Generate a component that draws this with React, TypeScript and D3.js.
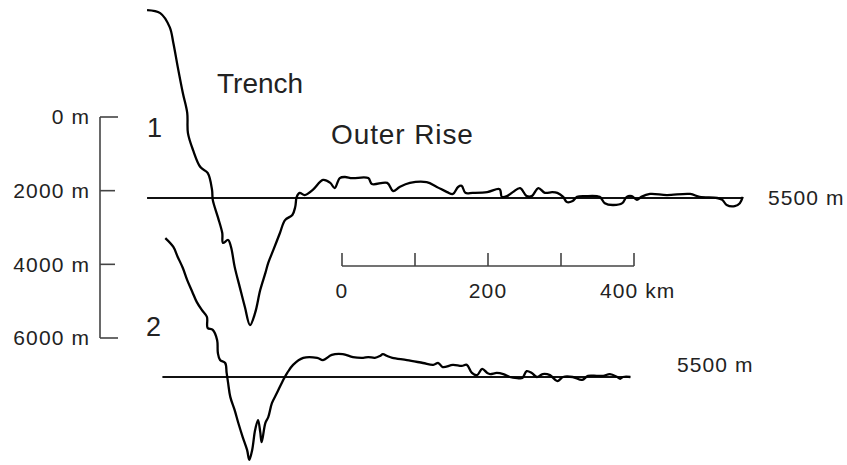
import React from "react";
import * as d3 from "d3";

// Profile 1: distance from trench axis (km), depth (m)
const p1Km = [-141,-123,-110,-105,-99,-92,-86,-85,-78,-68,-58,-52,-51,-44,-38,-37,-30,-26,-21,-14,-7,0,7,14,21,25,32,41,48,58,62,64,68,75,86,100,110,116,123,130,140,162,167,188,196,205,219,242,256,270,278,285,290,295,305,325,342,345,352,360,370,379,386,395,404,414,421,429,434,442,448,459,479,486,497,510,516,523,530,536,548,571,603,616,640,647,653,664,671,675];
const p1Depth = [400,480,860,1290,1940,2650,3190,3740,4200,4660,4820,5280,5550,6020,6450,6720,6640,6830,7370,7920,8460,8950,8620,8000,7540,7260,6910,6450,6100,5960,5740,5470,5360,5420,5280,5010,5090,5230,4960,4930,4960,4960,5120,5090,5310,5200,5090,5070,5200,5340,5390,5200,5170,5360,5360,5340,5260,5470,5450,5340,5230,5450,5450,5230,5360,5340,5360,5470,5610,5580,5470,5450,5470,5640,5690,5640,5470,5450,5550,5470,5390,5420,5390,5470,5500,5550,5690,5720,5640,5470];

// Profile 2
const p2Km = [-116,-105,-99,-92,-86,-79,-73,-66,-59,-58,-51,-45,-44,-41,-34,-32,-30,-27,-21,-16,-10,-4,-1,3,7,11,14,16,21,25,30,37,44,51,59,73,92,100,112,127,141,155,162,171,178,182,188,195,215,237,251,258,264,278,290,297,304,311,318,325,329,338,347,356,366,373,379,386,393,401,411,421,429,442,455,463,475,484,493,503,507,511,521];
const p2Depth = [1730,1970,2240,2540,2870,3190,3460,3680,3870,4170,4220,4500,4850,5040,5120,5390,5660,6040,6400,6750,7130,7480,7750,7480,6940,6670,6990,7270,6750,6590,6210,5930,5640,5390,5170,4980,4980,5040,4900,4880,4960,4980,4960,4980,4930,4880,4930,4980,5040,5120,5170,5120,5230,5170,5200,5170,5390,5450,5280,5390,5420,5390,5420,5500,5530,5530,5340,5390,5500,5420,5450,5610,5500,5500,5580,5470,5470,5470,5420,5500,5550,5500,5500];

const refDepth = 5500;
const p1Ref = [-141, 675];
const p2Ref = [-120, 521];

const depthTicks = [0, 2000, 4000, 6000];
const kmTicks = [0, 100, 200, 300, 400];
const kmLabels = [
  { v: 0, t: "0" },
  { v: 200, t: "200" },
];

const FONT = "'Liberation Sans', Arial, Helvetica, sans-serif";

export default function App() {
  const W = 847, H = 465;
  const xProf = d3.scaleLinear().domain([0, 400]).range([250, 542]);
  const xBar = d3.scaleLinear().domain([0, 400]).range([342, 634]);
  const yBar = d3.scaleLinear().domain([0, 6000]).range([117, 338]);
  const k = (338 - 117) / 6000;
  const y1 = d3.scaleLinear().domain([0, 6000]).range([198 - refDepth * k, 198 + (6000 - refDepth) * k]);
  const y2 = d3.scaleLinear().domain([0, 6000]).range([377 - refDepth * k, 377 + (6000 - refDepth) * k]);

  const line1 = d3.line<number>().x((_, i) => xProf(p1Km[i])).y((d) => y1(d)).curve(d3.curveCatmullRom.alpha(0.5));
  const line2 = d3.line<number>().x((_, i) => xProf(p2Km[i])).y((d) => y2(d)).curve(d3.curveCatmullRom.alpha(0.5));

  const textColor = "#222";
  const small = { fontSize: 21, letterSpacing: 1.1, fill: textColor } as const;
  return (
    <svg width={W} height={H} style={{ position: "absolute", left: 0, top: 0, background: "#fff" }} fontFamily={FONT}>
      {/* depth scale bar */}
      <line x1={100} x2={100} y1={yBar(0)} y2={yBar(6000)} stroke="#444" strokeWidth={1.6} />
      {depthTicks.map((d) => (
        <g key={d}>
          <line x1={100} x2={d === 0 || d === 6000 ? 118 : 115} y1={yBar(d)} y2={yBar(d)} stroke="#444" strokeWidth={1.6} />
          <text x={90} y={yBar(d)} dy="0.35em" textAnchor="end" {...small}>{`${d} m`}</text>
        </g>
      ))}

      {/* profile labels */}
      <text x={147} y={137} fontSize={27} fill={textColor}>1</text>
      <text x={146} y={336} fontSize={27} fill={textColor}>2</text>
      <text x={217} y={93} fontSize={28} fill={textColor}>Trench</text>
      <text x={331} y={144} fontSize={28} letterSpacing={0.9} fill={textColor}>Outer Rise</text>

      {/* reference lines */}
      <line x1={xProf(p1Ref[0])} x2={xProf(p1Ref[1])} y1={y1(refDepth)} y2={y1(refDepth)} stroke="#111" strokeWidth={2.2} />
      <line x1={xProf(p2Ref[0])} x2={xProf(p2Ref[1])} y1={y2(refDepth)} y2={y2(refDepth)} stroke="#111" strokeWidth={2.2} />
      <text x={768} y={y1(refDepth)} dy="0.35em" {...small}>5500 m</text>
      <text x={677} y={y2(refDepth) - 12} dy="0.35em" {...small}>5500 m</text>

      {/* profiles */}
      <path d={line1(p1Depth) || ""} fill="none" stroke="#000" strokeWidth={2.3} strokeLinejoin="round" />
      <path d={line2(p2Depth) || ""} fill="none" stroke="#000" strokeWidth={2.3} strokeLinejoin="round" />

      {/* km scale bar */}
      <line x1={xBar(0)} x2={xBar(400)} y1={266} y2={266} stroke="#444" strokeWidth={1.6} />
      {kmTicks.map((v) => (
        <line key={v} x1={xBar(v)} x2={xBar(v)} y1={266} y2={253} stroke="#444" strokeWidth={1.6} />
      ))}
      {kmLabels.map((l) => (
        <text key={l.v} x={xBar(l.v)} y={298} textAnchor="middle" {...small}>{l.t}</text>
      ))}
      <text x={xBar(400) - 34} y={298} {...small}>400 km</text>
    </svg>
  );
}
